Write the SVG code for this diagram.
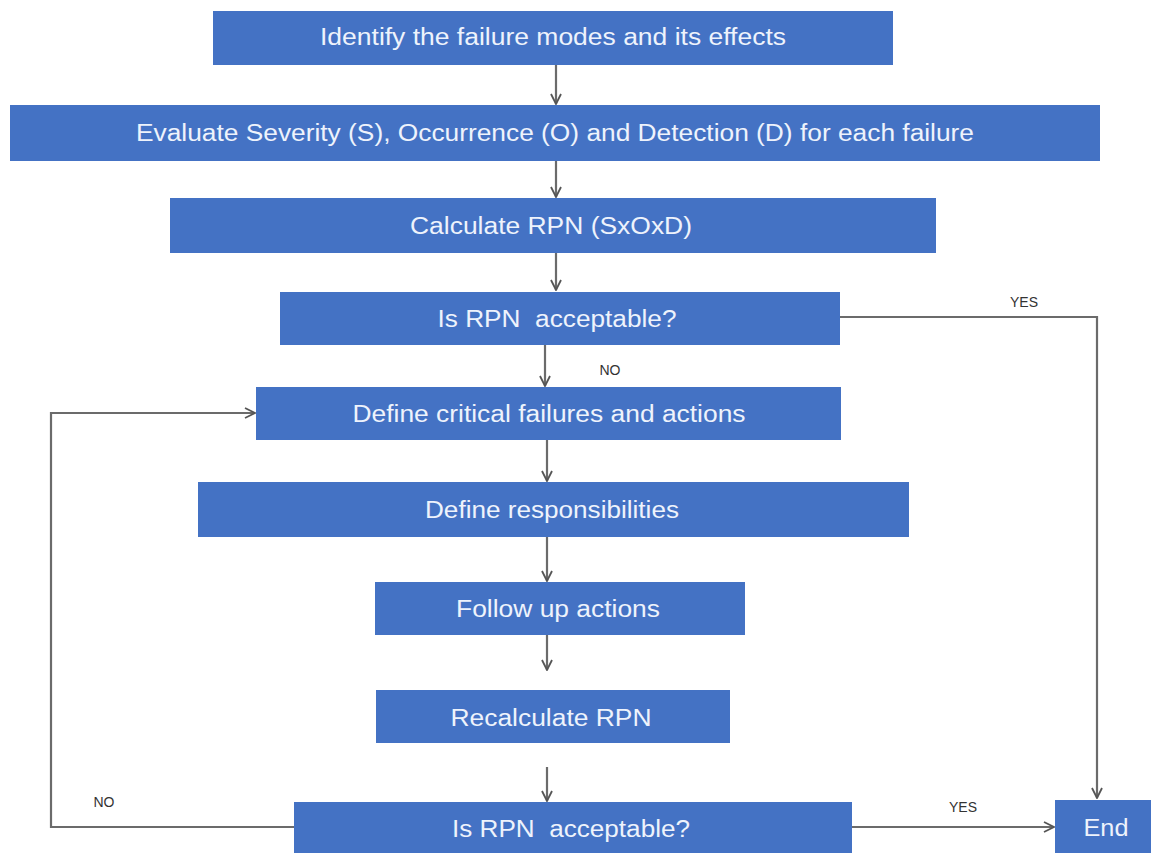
<svg xmlns="http://www.w3.org/2000/svg" width="1151" height="853" viewBox="0 0 1151 853">
<style>
.box{fill:#4472C4;}
.t{font-family:"Liberation Sans",Arial,sans-serif;font-size:23px;fill:#eef3fc;text-anchor:middle;white-space:pre;}
.lbl{font-family:"Liberation Sans",Arial,sans-serif;font-size:14px;fill:#333;text-anchor:middle;}
.c{fill:none;stroke:#6b6b6b;stroke-width:2.2;}
</style>
<defs>
<marker id="ah" viewBox="0 0 12 12" refX="11" refY="6" markerWidth="12" markerHeight="12" markerUnits="userSpaceOnUse" orient="auto">
<path d="M1,1 L11,6 L1,11" fill="none" stroke="#555" stroke-width="1.8"/>
</marker>
</defs>
<rect width="1151" height="853" fill="#ffffff"/>
<g id="connectors">
<line class="c" x1="556" y1="65" x2="556" y2="104" marker-end="url(#ah)"/>
<line class="c" x1="556" y1="161" x2="556" y2="197" marker-end="url(#ah)"/>
<line class="c" x1="556" y1="253" x2="556" y2="290" marker-end="url(#ah)"/>
<line class="c" x1="545" y1="345" x2="545" y2="386" marker-end="url(#ah)"/>
<line class="c" x1="547" y1="440" x2="547" y2="481" marker-end="url(#ah)"/>
<line class="c" x1="547" y1="537" x2="547" y2="581" marker-end="url(#ah)"/>
<line class="c" x1="547" y1="635" x2="547" y2="670" marker-end="url(#ah)"/>
<line class="c" x1="547" y1="767" x2="547" y2="801" marker-end="url(#ah)"/>
<polyline class="c" points="840,317 1097,317 1097,798" marker-end="url(#ah)"/>
<line class="c" x1="852" y1="827" x2="1054" y2="827" marker-end="url(#ah)"/>
<polyline class="c" points="294,827 51,827 51,413 255,413" marker-end="url(#ah)"/>
<text class="lbl" x="1024" y="307">YES</text>
<text class="lbl" x="610" y="375">NO</text>
<text class="lbl" x="104" y="807">NO</text>
<text class="lbl" x="963" y="812">YES</text>
</g>
<g id="n1"><rect class="box" x="213" y="11" width="680" height="54"/><text class="t" x="553" y="45" textLength="466" lengthAdjust="spacingAndGlyphs">Identify the failure modes and its effects</text></g>
<g id="n2"><rect class="box" x="10" y="105" width="1090" height="56"/><text class="t" x="555" y="141" textLength="838" lengthAdjust="spacingAndGlyphs">Evaluate Severity (S), Occurrence (O) and Detection (D) for each failure</text></g>
<g id="n3"><rect class="box" x="170" y="198" width="766" height="55"/><text class="t" x="551" y="234" textLength="282" lengthAdjust="spacingAndGlyphs">Calculate RPN (SxOxD)</text></g>
<g id="n4"><rect class="box" x="280" y="292" width="560" height="53"/><text class="t" x="557" y="327" textLength="239" lengthAdjust="spacingAndGlyphs">Is RPN  acceptable?</text></g>
<g id="n5"><rect class="box" x="256" y="387" width="585" height="53"/><text class="t" x="549" y="422" textLength="393" lengthAdjust="spacingAndGlyphs">Define critical failures and actions</text></g>
<g id="n6"><rect class="box" x="198" y="482" width="711" height="55"/><text class="t" x="552" y="518" textLength="254" lengthAdjust="spacingAndGlyphs">Define responsibilities</text></g>
<g id="n7"><rect class="box" x="375" y="582" width="370" height="53"/><text class="t" x="558" y="617" textLength="204" lengthAdjust="spacingAndGlyphs">Follow up actions</text></g>
<g id="n8"><rect class="box" x="376" y="690" width="354" height="53"/><text class="t" x="551" y="726" textLength="201" lengthAdjust="spacingAndGlyphs">Recalculate RPN</text></g>
<g id="n9"><rect class="box" x="294" y="802" width="558" height="55"/><text class="t" x="571" y="837" textLength="238" lengthAdjust="spacingAndGlyphs">Is RPN  acceptable?</text></g>
<g id="end"><rect class="box" x="1055" y="800" width="100" height="57"/><text class="t" x="1106" y="836" textLength="45" lengthAdjust="spacingAndGlyphs">End</text></g>
</svg>
